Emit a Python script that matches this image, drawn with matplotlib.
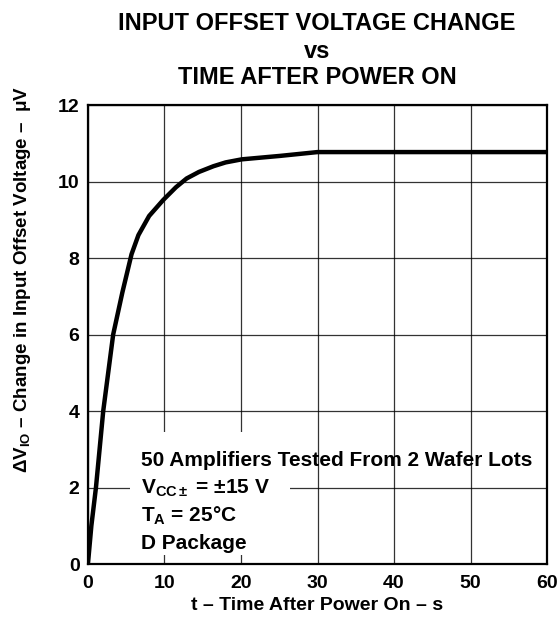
import matplotlib
matplotlib.use("Agg")
import matplotlib.pyplot as plt
from matplotlib.patches import Rectangle

plt.rcParams['font.family'] = ['Liberation Sans', 'DejaVu Sans']
plt.rcParams['font.weight'] = 'bold'
plt.rcParams['mathtext.fontset'] = 'custom'
plt.rcParams['mathtext.rm'] = 'Liberation Sans:bold'
plt.rcParams['mathtext.bf'] = 'Liberation Sans:bold'
plt.rcParams['mathtext.it'] = 'Liberation Sans:bold'

# time after power on (s) and offset voltage change (uV)
t_s = [0, 0.45, 1.05, 2.0, 3.3, 4.5, 5.7, 6.6, 8.0, 9.85, 11.5, 12.9, 14.5, 16.4, 18.0, 20.1, 25.1, 30, 40, 50, 60]
dvio_uv = [0, 1.0, 2.0, 4.0, 6.0, 7.1, 8.1, 8.6, 9.1, 9.52, 9.85, 10.08, 10.25, 10.4, 10.5, 10.58, 10.67, 10.77, 10.77, 10.77, 10.77]

x_ticks = [0, 10, 20, 30, 40, 50, 60]
y_ticks = [0, 2, 4, 6, 8, 10, 12]

notes = ["50 Amplifiers Tested From 2 Wafer Lots",
         "V$_{\\mathregular{CC\\pm}}$ = $\\pm$15 V",
         "T$_{\\mathregular{A}}$ = 25$\\degree$C",
         "D Package"]

title_lines = ["INPUT OFFSET VOLTAGE CHANGE", "vs", "TIME AFTER POWER ON"]

fig = plt.figure(figsize=(5.6, 6.2), dpi=100)
ax = fig.add_axes([0.157, 0.0903, 0.82, 0.7403])

ax.plot(t_s, dvio_uv, color='black', lw=3.2, solid_capstyle='butt', zorder=4)

ax.set_xlim(0, 60)
ax.set_ylim(0, 12)
ax.set_xticks(x_ticks)
ax.set_yticks(y_ticks)
ax.tick_params(length=0, labelsize=14, pad=6)
ax.tick_params(axis='x', pad=8)
for lab in ax.get_xticklabels() + ax.get_yticklabels():
    lab.set_fontweight('bold')
ax.grid(True, color='black', lw=0.9, alpha=0.8)
for s in ax.spines.values():
    s.set_linewidth(1.6)

# white box behind the notes
ax.add_patch(Rectangle((5.5, 0.24), 20.9, 3.2, facecolor='white', edgecolor='none', zorder=2.5))
for i, line in enumerate(notes):
    ax.text(6.9, 2.55 - i * 0.72, line, fontsize=15, fontweight='bold', va='baseline', ha='left', zorder=5)

ax.set_xlabel("t \u2013 Time After Power On \u2013 s", fontsize=14, fontweight='bold')
ax.xaxis.set_label_coords(0.5, -0.1)
ax.xaxis.label.set_va('baseline')
ax.set_ylabel("$\\Delta$V$_{\\mathregular{IO}}$ \u2013 Change in Input Offset Voltage \u2013  $\\mu$V",
              fontsize=13.5, fontweight='bold')
ax.yaxis.set_label_coords(-0.142, 0.62)
ax.yaxis.label.set_va('center')

for y, line in zip([0.9516, 0.9065, 0.8645], title_lines):
    fig.text(0.566, y, line, ha='center', va='baseline', fontsize=17, fontweight='bold')

fig.savefig("out.png", dpi=100, facecolor='white')
